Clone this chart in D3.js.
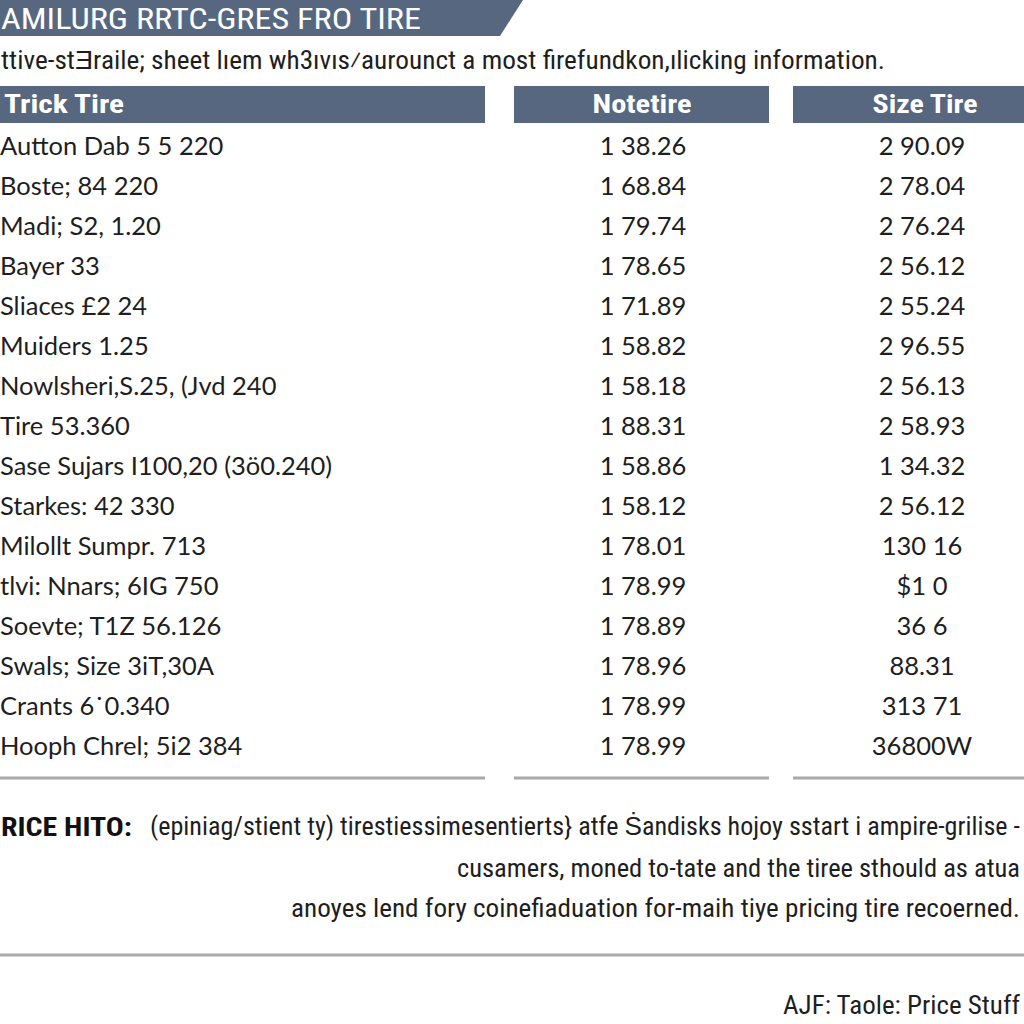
<!DOCTYPE html>
<html><head><meta charset="utf-8">
<script src="https://cdn.jsdelivr.net/npm/d3@7"></script>
<style>
html,body{margin:0;padding:0;background:#fff;}
svg{display:block;}
</style></head>
<body>
<svg id="chart" width="1024" height="1024"></svg>
<script>
const titleText = "AMILURG RRTC-GRES FRO TIRE";
const subtitleText = "ttive-st\u018Eraile; sheet l\u0131em wh3\u0131v\u0131s\u2044aurounct a most firefundkon,\u0131licking information.";
const columns = ["Trick Tire", "Notetire", "Size Tire"];
const names = ["Autton Dab 5 5 220","Boste; 84 220","Madi; S2, 1.20","Bayer 33","Sliaces \u00A32 24","Muiders 1.25",
  "Nowlsheri,S.25, (Jvd 240","Tire 53.360","Sase Sujars I100,20  (3\u00F60.240)","Starkes: 42 330","Milollt Sumpr. 713",
  "tlvi: Nnars; 6IG 750","Soevte; T1Z 56.126","Swals; Size 3iT,30A","Crants 6\u02D90.340","Hooph Chrel; 5i2 384"];
const noteValues = ["1 38.26","1 68.84","1 79.74","1 78.65","1 71.89","1 58.82","1 58.18","1 88.31","1 58.86","1 58.12",
  "1 78.01","1 78.99","1 78.89","1 78.96","1 78.99","1 78.99"];
const sizeValues = ["2 90.09","2 78.04","2 76.24","2 56.12","2 55.24","2 96.55","2 56.13","2 58.93","1 34.32","2 56.12",
  "130 16","$1 0","36 6","88.31","313 71","36800W"];
const noteLabel = "RICE HITO:";
const noteLines = ["(epiniag/stient ty) tirestiessimesentierts} atfe S\u0307andisks hojoy sstart i ampire-grilise -",
  "cusamers, moned to-tate and the tiree sthould as atua",
  "anoyes lend fory coinefiaduation for-maih tiye pricing tire recoerned."];
const footerText = "AJF: Taole: Price Stuff";

const svg = d3.select("#chart");
const slate = "#56677f";
const ink = "#1e1e1e";
const rule = "#a9a9a9";
const narrow = "'Liberation Sans Narrow','Arial Narrow','Roboto Condensed',Roboto,sans-serif";
const body = "Lato,'Open Sans',sans-serif";

// Column geometry
const colX = d3.scaleOrdinal().domain(columns).range([[0,485],[514,769],[793,1024]]);
const headLen = d3.scaleOrdinal().domain(columns).range([120, 99, 105]);
// Row scale
const rowY = d3.scaleBand().domain(d3.range(names.length)).range([126, 766]).paddingInner(0);

// Title banner
svg.append("path").attr("fill", slate)
  .attr("d", "M0,0 L523,0 L500,36 L0,36 Z");
svg.append("text").text(titleText)
  .attr("x", 1).attr("y", 29).attr("fill", "#fff")
  .attr("font-family", narrow).attr("font-size", 30)
  .attr("textLength", 420).attr("lengthAdjust","spacingAndGlyphs");

svg.append("text").text(subtitleText)
  .attr("x", 1).attr("y", 69).attr("fill", ink)
  .attr("font-family", narrow).attr("font-size", 25)
  .attr("textLength", 884).attr("lengthAdjust","spacingAndGlyphs");

// Header bars
const hdr = svg.selectAll("g.hdr").data(columns).join("g").attr("class","hdr");
hdr.append("rect")
  .attr("x", d => colX(d)[0]).attr("y", 86)
  .attr("width", d => colX(d)[1]-colX(d)[0]).attr("height", 37)
  .attr("fill", slate);
hdr.append("text").text(d => d)
  .attr("x", (d,i) => i === 0 ? 4 : (i === 1 ? 642 : 925))
  .attr("y", 113)
  .attr("text-anchor", (d,i) => i === 0 ? "start" : "middle")
  .attr("fill", "#fff").attr("font-weight", "bold")
  .attr("font-family", narrow).attr("font-size", 26)
  .attr("textLength", d => headLen(d)).attr("lengthAdjust","spacingAndGlyphs");

// Rows
const rows = svg.selectAll("g.row").data(names.map((n,i) => ({n, a: noteValues[i], b: sizeValues[i], i})))
  .join("g").attr("class","row")
  .attr("transform", d => `translate(0,${rowY(d.i) + rowY.bandwidth()/2 + 9})`);
rows.append("text").text(d => d.n)
  .attr("x", 0).attr("fill", ink)
  .attr("font-family", body).attr("font-size", 25.5);
rows.append("text").text(d => d.a)
  .attr("x", 643).attr("text-anchor","middle").attr("fill", ink)
  .attr("font-family", body).attr("font-size", 25.5);
rows.append("text").text(d => d.b)
  .attr("x", 922).attr("text-anchor","middle").attr("fill", ink)
  .attr("font-family", body).attr("font-size", 25.5);

// Bottom rules of table
svg.selectAll("line.bot").data(columns).join("line").attr("class","bot")
  .attr("x1", d => colX(d)[0]).attr("x2", d => colX(d)[1])
  .attr("y1", 778).attr("y2", 778)
  .attr("stroke", rule).attr("stroke-width", 3);

// Notes
svg.append("text").text(noteLabel)
  .attr("x", 1).attr("y", 836).attr("fill", "#111")
  .attr("font-weight","bold").attr("font-family", narrow).attr("font-size", 26)
  .attr("textLength", 131).attr("lengthAdjust","spacingAndGlyphs");
svg.append("text").text(noteLines[0])
  .attr("x", 150).attr("y", 835).attr("fill", ink)
  .attr("font-family", narrow).attr("font-size", 25)
  .attr("textLength", 870).attr("lengthAdjust","spacingAndGlyphs");
svg.append("text").text(noteLines[1])
  .attr("x", 457).attr("y", 877).attr("fill", ink)
  .attr("font-family", narrow).attr("font-size", 25)
  .attr("textLength", 563).attr("lengthAdjust","spacingAndGlyphs");
svg.append("text").text(noteLines[2])
  .attr("x", 291).attr("y", 917).attr("fill", ink)
  .attr("font-family", narrow).attr("font-size", 25)
  .attr("textLength", 729).attr("lengthAdjust","spacingAndGlyphs");

svg.append("line").attr("x1",0).attr("x2",1024).attr("y1",955).attr("y2",955)
  .attr("stroke", rule).attr("stroke-width", 3);

svg.append("text").text(footerText)
  .attr("x", 783).attr("y", 1014).attr("fill", ink)
  .attr("font-family", narrow).attr("font-size", 25)
  .attr("textLength", 237).attr("lengthAdjust","spacingAndGlyphs");
</script>
</body></html>
